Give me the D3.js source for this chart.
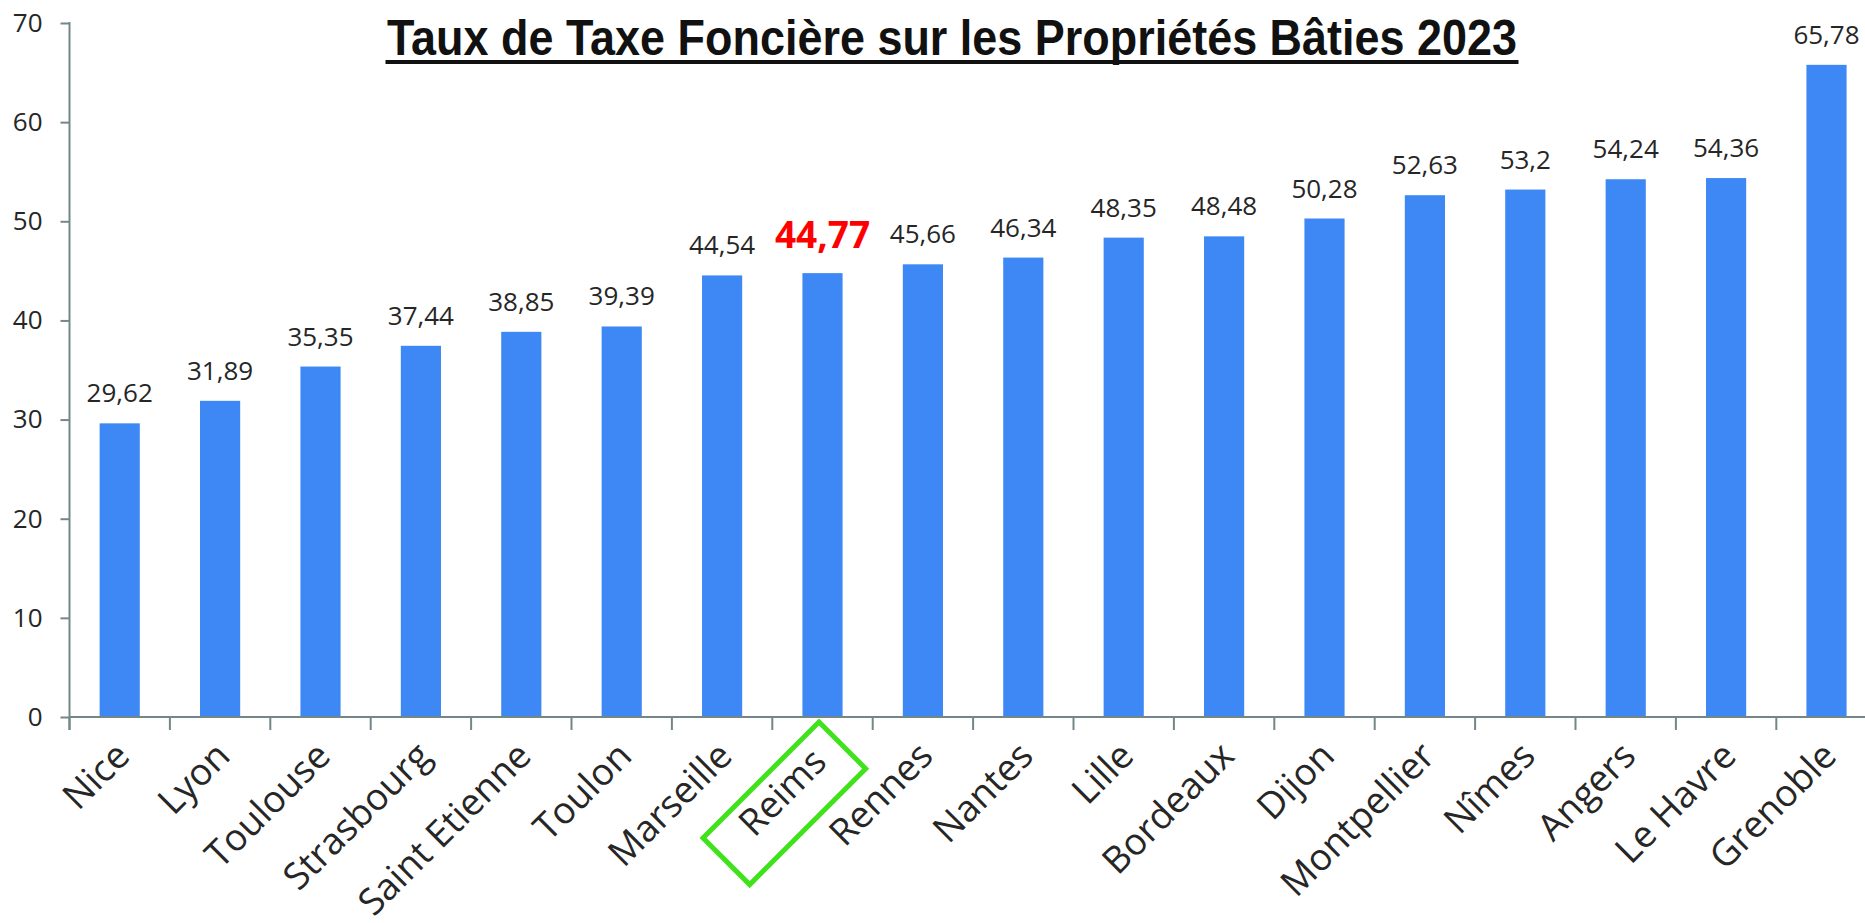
<!DOCTYPE html>
<html>
<head>
<meta charset="utf-8">
<script src="https://cdn.jsdelivr.net/npm/d3@7/dist/d3.min.js"></script>
<style>
body { margin:0; background:#fff; }
svg { display:block; }
.label { font-family:"Open Sans", sans-serif; fill:#262626; }
</style>
</head>
<body>
<svg id="graph1"></svg>
<script>
// data
var villes = ["Nice","Lyon","Toulouse","Strasbourg","Saint Etienne","Toulon","Marseille","Reims",
              "Rennes","Nantes","Lille","Bordeaux","Dijon","Montpellier","Nîmes","Angers","Le Havre","Grenoble"];
var taux = [29.62,31.89,35.35,37.44,38.85,39.39,44.54,44.77,45.66,46.34,48.35,48.48,50.28,52.63,53.2,54.24,54.36,65.78];
var yTicks = [0,10,20,30,40,50,60,70];
var villeEnValeur = "Reims";
var titre = "Taux de Taxe Foncière sur les Propriétés Bâties 2023";

var axisColor = "#738788";

var formatTaux = function(v)
{
    return String(v).replace(".", ",");
}

var drawChart = function(target)
{
    var screen = {width:1865, height:923};
    // plot area; the right part of the chart is cut off by the picture
    var plot = {left:69.5, top:23, bottom:717, step:100.4};

    var svg = d3.select(target)
        .attr("width", screen.width)
        .attr("height", screen.height);

    var data = villes.map(function(v, i) { return {ville:v, taux:taux[i]}; });

    var xScale = d3.scaleBand()
        .domain(villes)
        .range([plot.left, plot.left + plot.step*villes.length])
        .paddingInner(0.6)
        .paddingOuter(0.3);

    var yScale = d3.scaleLinear()
        .domain([0, d3.max(yTicks)])
        .range([plot.bottom, plot.top]);

    var cx = function(d) { return xScale(d.ville) + xScale.bandwidth()/2; };
    var gap = (xScale.step() - xScale.bandwidth())/2;

    // bars
    svg.append("g")
        .selectAll("rect")
        .data(data)
        .enter()
        .append("rect")
        .attr("x", function(d) { return xScale(d.ville); })
        .attr("y", function(d) { return yScale(d.taux); })
        .attr("width", xScale.bandwidth())
        .attr("height", function(d) { return yScale(0) - yScale(d.taux); })
        .attr("fill", "#3d88f5");

    // y axis
    var yAxis = d3.axisLeft(yScale)
        .tickValues(yTicks)
        .tickSize(9)
        .tickSizeOuter(0)
        .tickPadding(18);
    var gy = svg.append("g")
        .attr("transform", "translate(" + plot.left + ",0)")
        .call(yAxis);
    gy.select(".domain").remove();
    gy.selectAll(".tick line").attr("stroke", axisColor).attr("stroke-width", 2);
    gy.selectAll(".tick text")
        .attr("class", "label")
        .style("font-size", "26px")
        .attr("fill", "#262626");
    gy.append("line")
        .attr("x1", 0).attr("x2", 0)
        .attr("y1", yScale(d3.max(yTicks)) - 1)
        .attr("y2", plot.bottom + 13)
        .attr("stroke", axisColor)
        .attr("stroke-width", 2);

    // x axis line + ticks between the categories
    svg.append("line")
        .attr("x1", plot.left).attr("x2", screen.width)
        .attr("y1", plot.bottom).attr("y2", plot.bottom)
        .attr("stroke", axisColor)
        .attr("stroke-width", 2);
    svg.append("g")
        .selectAll("line")
        .data(data)
        .enter()
        .append("line")
        .attr("x1", function(d) { return xScale(d.ville) - gap; })
        .attr("x2", function(d) { return xScale(d.ville) - gap; })
        .attr("y1", plot.bottom)
        .attr("y2", plot.bottom + 13)
        .attr("stroke", axisColor)
        .attr("stroke-width", 2);

    // category labels, rotated
    svg.append("g")
        .selectAll("text")
        .data(data)
        .enter()
        .append("text")
        .attr("class", "label")
        .attr("text-anchor", "end")
        .style("font-size", "37px")
        .attr("fill", "#1a1a1a")
        .attr("transform", function(d)
        {
            var hx = d.ville == villeEnValeur ? -6 : 0;
            return "translate(" + (cx(d) + 12 + hx) + "," + (758 - hx) + ") rotate(-45)";
        })
        .text(function(d) { return d.ville; });

    // value labels
    svg.append("g")
        .selectAll("text")
        .data(data)
        .enter()
        .append("text")
        .attr("class", "label")
        .attr("text-anchor", "middle")
        .attr("x", cx)
        .attr("y", function(d)
        {
            return yScale(d.taux) - (d.ville == villeEnValeur ? 25 : 21);
        })
        .style("font-size", function(d) { return d.ville == villeEnValeur ? "37px" : "26px"; })
        .style("font-weight", function(d) { return d.ville == villeEnValeur ? "bold" : "normal"; })
        .style("fill", function(d) { return d.ville == villeEnValeur ? "#ff0000" : "#262626"; })
        .text(function(d) { return formatTaux(d.taux); });

    // green frame around the highlighted city
    var reims = data.filter(function(d) { return d.ville == villeEnValeur; })[0];
    svg.append("g")
        .attr("transform", "translate(" + (cx(reims) - 3.5) + "," + (plot.bottom + 5) + ") rotate(-45)")
        .append("rect")
        .attr("x", -164)
        .attr("y", 0)
        .attr("width", 164)
        .attr("height", 66)
        .attr("fill", "none")
        .attr("stroke", "#40e21b")
        .attr("stroke-width", 5);

    // title, underlined
    svg.append("text")
        .attr("x", 952)
        .attr("y", 55)
        .attr("text-anchor", "middle")
        .attr("textLength", 1130)
        .attr("lengthAdjust", "spacingAndGlyphs")
        .style("font-family", "'Liberation Sans Narrow', 'Arial Narrow', 'Liberation Sans', sans-serif")
        .style("font-weight", "bold")
        .style("font-size", "50px")
        .style("fill", "#111")
        .text(titre);
    svg.append("rect")
        .attr("x", 952 - 1133/2)
        .attr("y", 60)
        .attr("width", 1133)
        .attr("height", 4)
        .attr("fill", "#111");
}

drawChart("#graph1");
</script>
</body>
</html>
